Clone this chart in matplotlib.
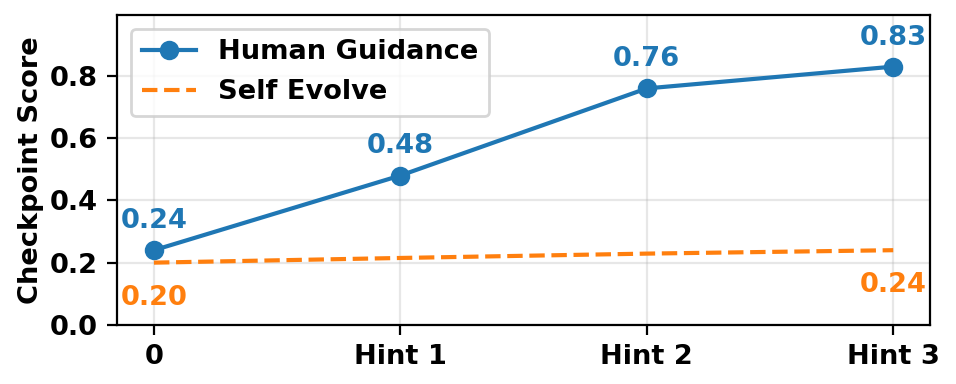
import matplotlib
matplotlib.use("Agg")
import matplotlib.pyplot as plt

# Data
stages = ["0", "Hint 1", "Hint 2", "Hint 3"]
human = [0.24, 0.48, 0.76, 0.83]
self_evolve = [0.20, 0.215, 0.229, 0.24]

plt.rcParams["font.size"] = 9.8
plt.rcParams["font.weight"] = "bold"
plt.rcParams["axes.labelweight"] = "bold"

fig, ax = plt.subplots(figsize=(4.78, 1.92), dpi=200)
fig.subplots_adjust(left=0.1224, right=0.973, top=0.961, bottom=0.154)

x = list(range(len(stages)))
ax.plot(x, human, "-o", color="#1f77b4", lw=1.5, ms=6, label="Human Guidance")
ax.plot(x, self_evolve, "--", color="#ff7f0e", lw=1.5, label="Self Evolve")

for xi, v in zip(x, human):
    ax.annotate(f"{v:.2f}", (xi, v), xytext=(0, 5.8), textcoords="offset points",
                ha="center", va="bottom", color="#1f77b4", fontweight="bold")

for xi in [0, len(x) - 1]:
    ax.annotate(f"{self_evolve[xi]:.2f}", (xi, self_evolve[xi]), xytext=(0, -8),
                textcoords="offset points", ha="center", va="top",
                color="#ff7f0e", fontweight="bold")

ax.set_xticks(x)
ax.set_xticklabels(stages)
ax.set_xlim(-0.15, 3.15)
ax.set_ylim(0, max(human) * 1.2)
ax.set_ylabel("Checkpoint Score", labelpad=2)
ax.grid(True, alpha=0.3)
ax.legend(loc="upper left", prop={"weight": "bold", "size": 9.8})

plt.savefig("out.png", dpi=200)
